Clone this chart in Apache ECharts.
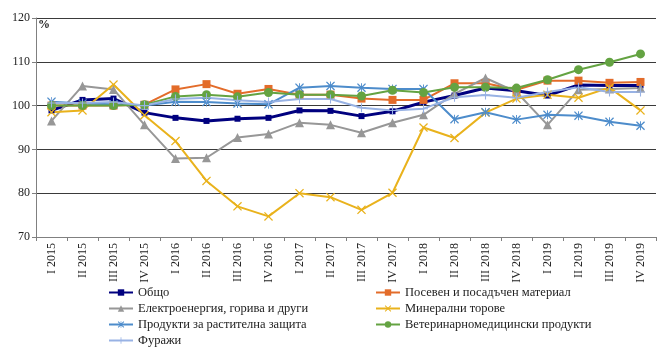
<!DOCTYPE html>
<html>
<head>
<meta charset="utf-8">
<script src="https://cdn.jsdelivr.net/npm/echarts@6/dist/echarts.min.js"></script>
<style>
    html, body { margin: 0; padding: 0; background: #fff; }
    #chart { width: 668px; height: 351px; }
</style>
</head>
<body>
<div id="chart"></div>
<script>
// quarters
const categories = ['I 2015','II 2015','III 2015','IV 2015','I 2016','II 2016','III 2016','IV 2016',
    'I 2017','II 2017','III 2017','IV 2017','I 2018','II 2018','III 2018','IV 2018',
    'I 2019','II 2019','III 2019','IV 2019'];

const obshto      = [98.9, 101.3, 101.6, 98.4, 97.2, 96.5, 97.0, 97.2, 98.9, 98.8, 97.6, 98.7, 100.8, 102.3, 104.0, 103.4, 102.3, 104.7, 104.6, 104.6];
const poseven     = [100.0, 100.0, 100.0, 100.2, 103.7, 104.9, 102.7, 103.8, 102.5, 102.5, 101.6, 101.3, 101.3, 105.1, 105.1, 103.6, 105.7, 105.7, 105.2, 105.4];
const elektro     = [96.5, 104.5, 103.7, 95.6, 87.9, 88.1, 92.7, 93.5, 96.1, 95.6, 93.8, 96.1, 97.9, 102.7, 106.3, 103.1, 95.6, 103.6, 103.8, 104.0];
const torove      = [98.5, 98.9, 104.8, 97.8, 91.9, 82.8, 77.0, 74.7, 80.0, 79.1, 76.2, 80.1, 95.0, 92.6, 98.4, 101.6, 102.5, 101.8, 104.1, 98.9];
const zashtita    = [100.9, 100.5, 100.3, 100.0, 100.9, 100.8, 100.5, 100.3, 104.1, 104.5, 104.1, 103.8, 103.8, 96.9, 98.5, 96.8, 97.9, 97.7, 96.3, 95.4];
const veterinarni = [100.0, 100.0, 100.0, 100.2, 102.1, 102.5, 102.0, 103.0, 102.5, 102.5, 102.2, 103.5, 103.0, 104.2, 104.2, 104.0, 105.9, 108.2, 109.9, 111.8];
const furaji      = [100.6, 100.6, 100.8, 100.0, 101.5, 101.8, 101.2, 100.8, 101.5, 101.5, 99.5, 98.9, 99.3, 101.9, 102.4, 101.8, 103.1, 104.2, 103.1, 103.1];

const yTicks = [70, 80, 90, 100, 110, 120];

const serif = '"Liberation Serif", "DejaVu Serif", serif';

// marker shapes
const xMark = 'path://M0,1L1,0L5,4L9,0L10,1L6,5L10,9L9,10L5,6L1,10L0,9L4,5Z';
const starMark = 'path://M0,1L1,0L5,4L9,0L10,1L6,5L10,9L9,10L5,6L1,10L0,9L4,5Z M4.5,0L5.5,0L5.5,10L4.5,10Z';
const plusMark = 'path://M4.4,0L5.6,0L5.6,4.4L10,4.4L10,5.6L5.6,5.6L5.6,10L4.4,10L4.4,5.6L0,5.6L0,4.4L4.4,4.4Z';

const makeSeries = (name, data, color, symbol, symbolSize, width) => ({
    name: name,
    type: 'line',
    data: data,
    symbol: symbol,
    symbolSize: symbolSize,
    showAllSymbol: true,
    lineStyle: { color: color, width: width },
    itemStyle: { color: color },
    emphasis: { disabled: true },
    animation: false
});

const series = [
    makeSeries('Общо', obshto, '#00007f', 'rect', 6, 3),
    makeSeries('Посевен и посадъчен материал', poseven, '#e36c2a', 'rect', 8, 2),
    makeSeries('Електроенергия, горива и други', elektro, '#979797', 'triangle', 9, 2),
    makeSeries('Минерални торове', torove, '#e9b21c', xMark, 9, 2),
    makeSeries('Продукти за растителна защита', zashtita, '#4d8ccb', starMark, 9, 2),
    makeSeries('Ветеринарномедицински продукти', veterinarni, '#64a342', 'circle', 9, 2),
    makeSeries('Фуражи', furaji, '#98b2e4', plusMark, 9, 2)
];

const legendText = { fontFamily: serif, fontSize: 12.5, color: '#222' };

const option = {
    animation: false,
    grid: { left: 36, right: 12, top: 18, bottom: 114 },
    graphic: [{
        type: 'text', left: 38, top: 19,
        style: { text: '%', font: 'bold 12px ' + serif, fill: '#222' }
    }],
    legend: [
        {
            orient: 'vertical', left: 108, top: 286, padding: 0, itemGap: 3,
            itemWidth: 24, itemHeight: 8,
            data: ['Общо', 'Електроенергия, горива и други', 'Продукти за растителна защита', 'Фуражи'],
            textStyle: legendText
        },
        {
            orient: 'vertical', left: 375, top: 286, padding: 0, itemGap: 3,
            itemWidth: 24, itemHeight: 8,
            data: ['Посевен и посадъчен материал', 'Минерални торове', 'Ветеринарномедицински продукти'],
            textStyle: legendText
        }
    ],
    xAxis: {
        type: 'category',
        data: categories,
        boundaryGap: true,
        axisLine: { show: true, lineStyle: { color: '#808080', width: 1 } },
        axisTick: { show: true, length: 4, lineStyle: { color: '#808080' } },
        axisLabel: {
            rotate: 90, margin: 6, interval: 0,
            fontFamily: serif, fontSize: 12, color: '#222'
        }
    },
    yAxis: {
        type: 'value',
        min: yTicks[0],
        max: yTicks[yTicks.length - 1],
        interval: 10,
        axisLine: { show: true, lineStyle: { color: '#808080', width: 1 } },
        axisTick: { show: true, length: 4, lineStyle: { color: '#808080' } },
        axisLabel: { fontFamily: serif, fontSize: 12, color: '#222', margin: 6 },
        splitLine: { show: true, lineStyle: { color: '#3a3a3a', width: 1 } }
    },
    series: series
};

const myChart = echarts.init(document.getElementById('chart'));
myChart.setOption(option);
</script>
</body>
</html>
